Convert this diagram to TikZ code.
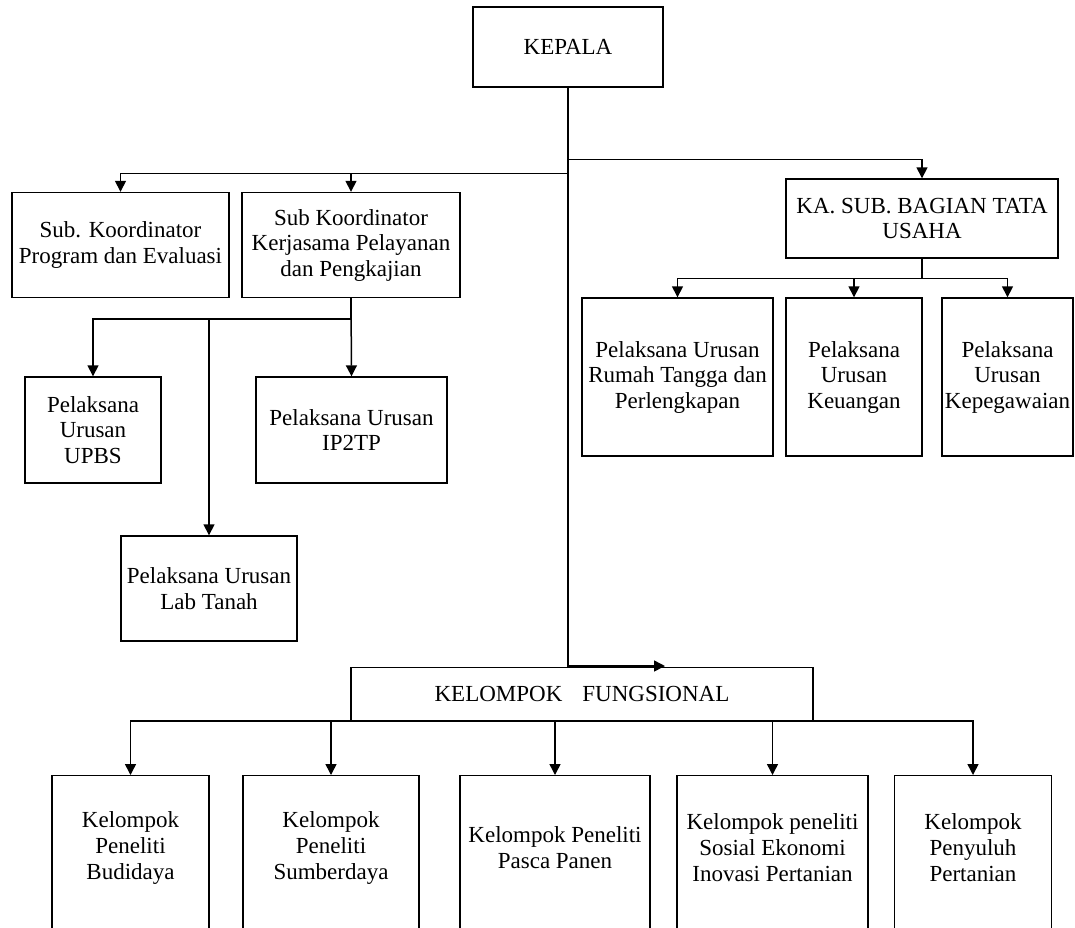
\documentclass[tikz,border=0pt]{standalone}
\usepackage{fontspec}
\setmainfont{Liberation Serif}
\usetikzlibrary{arrows.meta}

\begin{document}
\begin{tikzpicture}[x=1pt,y=-1pt]
      \tikzstyle{every node}+=[inner sep=0pt]
      \tikzstyle{box}=[draw, line width=1.4pt, rectangle, align=center, font=\fontsize{23}{25.5}\selectfont]
      \tikzstyle{txt}=[align=center, font=\fontsize{23}{26}\selectfont]
      \tikzstyle{arr}=[line width=1.5pt, -{Triangle[length=11pt,width=11pt]}]
      \useasboundingbox (0,0) rectangle (1075,927);
      \node [box, minimum width=190, minimum height=80] (kepala) at (568,47) {KEPALA};
      \node [box, minimum width=217, minimum height=105] (subprog) at (120.5,245) {Sub. Koordinator\\Program dan Evaluasi};
      \node [box, minimum width=218, minimum height=105] (subkerja) at (351,245) {Sub Koordinator\\Kerjasama Pelayanan\\dan Pengkajian};
      \node [box, minimum width=272, minimum height=79] (kasub) at (922,218.5) {KA. SUB. BAGIAN TATA\\USAHA};
      \node [box, minimum width=191, minimum height=158] (rumah) at (677.5,377) {Pelaksana Urusan\\Rumah Tangga dan\\Perlengkapan};
      \node [box, minimum width=136, minimum height=158] (keuangan) at (854,377) {Pelaksana\\Urusan\\Keuangan};
      \node [box, minimum width=131, minimum height=158] (kepeg) at (1007.5,377) {Pelaksana\\Urusan\\Kepegawaian};
      \node [box, minimum width=136, minimum height=106] (upbs) at (93,430) {Pelaksana\\Urusan\\UPBS};
      \node [box, minimum width=191, minimum height=106] (ip2tp) at (351.5,430) {Pelaksana Urusan\\IP2TP};
      \node [box, minimum width=176, minimum height=105] (labtanah) at (209,588.5) {Pelaksana Urusan\\Lab Tanah};
      \node [box, minimum width=462, minimum height=53] (fungsional) at (582,694) {KELOMPOK\hspace{20pt}FUNGSIONAL};
      \coordinate (fkend) at (665,666);
      \node [box, anchor=north, minimum width=157, minimum height=180] (kb1) at (130.5,775) {};
      \node [box, anchor=north, minimum width=176, minimum height=180] (kb2) at (331,775) {};
      \node [box, anchor=north, minimum width=190, minimum height=180] (kb3) at (555,775) {};
      \node [box, anchor=north, minimum width=191, minimum height=180] (kb4) at (772.5,775) {};
      \node [box, anchor=north, minimum width=157, minimum height=180] (kb5) at (973,775) {};
      \node [txt] (kb1t) at ([yshift=-73pt]kb1.north) {Kelompok\\Peneliti\\Budidaya};
      \node [txt] (kb2t) at ([yshift=-73pt]kb2.north) {Kelompok\\Peneliti\\Sumberdaya};
      \node [txt] (kb3t) at ([yshift=-73pt]kb3.north) {Kelompok Peneliti\\Pasca Panen};
      \node [txt] (kb4t) at ([yshift=-73pt]kb4.north) {Kelompok peneliti\\Sosial Ekonomi\\Inovasi Pertanian};
      \node [txt] (kb5t) at ([yshift=-73pt]kb5.north) {Kelompok\\Penyuluh\\Pertanian};
      \draw [arr] (kepala.south) |- (fkend);
      \draw [arr] (kepala.south) -- ++(0,72) -| (kasub.north);
      \draw [arr] (kepala.south) -- ++(0,86) -| (subprog.north);
      \draw [arr] (kepala.south) -- ++(0,86) -| (subkerja.north);
      \draw [arr] (kasub.south) -- ++(0,20) -| (rumah.north);
      \draw [arr] (kasub.south) -- ++(0,20) -| (keuangan.north);
      \draw [arr] (kasub.south) -- ++(0,20) -| (kepeg.north);
      \draw [arr] (subkerja.south) -- ++(0,21) -| (upbs.north);
      \draw [arr] (subkerja.south) -- (ip2tp.north);
      \draw [arr] (subkerja.south) -- ++(0,21) -| (labtanah.north);
      \draw [arr] (fungsional.south) -| (kb1.north);
      \draw [arr] (fungsional.south) -| (kb2.north);
      \draw [arr] (fungsional.south) -| (kb3.north);
      \draw [arr] (fungsional.south) -| (kb4.north);
      \draw [arr] (fungsional.south) -| (kb5.north);
    \end{tikzpicture}
\end{document}
